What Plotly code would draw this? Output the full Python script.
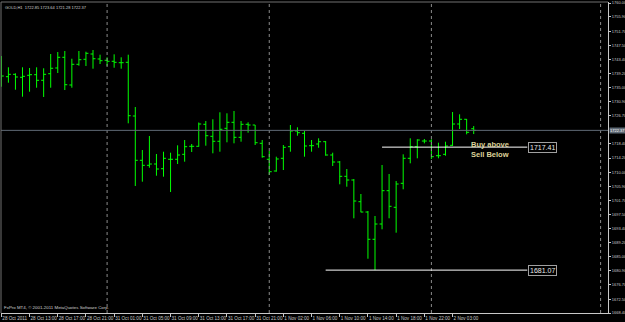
import plotly.graph_objects as go

# ---- data (GOLD, H1) ----
bar_index = list(range(68))
opens = [1737.84, 1738.23, 1738.93, 1738.05, 1738.64, 1738.82, 1737.16, 1739.11, 1740.80, 1743.96,
         1735.77, 1741.89, 1743.37, 1744.93, 1743.46, 1743.07, 1742.78, 1742.36, 1742.48, 1726.61,
         1713.52, 1712.04, 1712.43, 1711.04, 1713.82, 1713.82, 1715.29, 1717.66, 1717.66, 1724.16,
         1720.61, 1719.14, 1722.98, 1724.75, 1720.32, 1724.16, 1723.95, 1718.54, 1713.82, 1710.36,
         1714.11, 1717.54, 1722.18, 1721.50, 1717.84, 1718.34, 1719.02, 1715.09, 1713.02, 1708.79,
         1707.70, 1701.29, 1698.24, 1690.18, 1694.70, 1704.54, 1699.63, 1706.72, 1714.11, 1717.54,
         1719.22, 1719.22, 1714.88, 1715.29, 1717.95, 1724.25, 1725.64, 1722.85]
highs = [1744.34, 1741.00, 1739.23, 1741.00, 1740.80, 1741.00, 1740.71, 1744.93, 1745.52, 1745.82,
         1743.54, 1745.82, 1745.61, 1746.11, 1744.73, 1743.96, 1744.84, 1743.96, 1744.73, 1729.27,
         1716.56, 1720.70, 1715.38, 1716.06, 1715.77, 1717.95, 1719.52, 1718.34, 1724.69, 1725.13,
         1725.64, 1727.71, 1727.41, 1728.09, 1725.13, 1724.75, 1723.95, 1719.52, 1716.27, 1714.59,
         1718.04, 1723.95, 1723.27, 1722.18, 1719.52, 1720.02, 1719.22, 1715.77, 1713.31, 1710.95,
         1708.00, 1703.56, 1698.54, 1697.06, 1712.13, 1709.47, 1707.40, 1715.29, 1720.02, 1719.73,
         1719.82, 1719.73, 1718.72, 1719.02, 1727.79, 1727.11, 1725.73, 1723.64]
lows = [1735.27, 1736.45, 1734.38, 1732.32, 1733.79, 1734.97, 1732.23, 1734.97, 1739.32, 1734.29,
        1734.97, 1741.48, 1741.39, 1740.59, 1741.98, 1741.39, 1740.88, 1740.59, 1724.45, 1705.93,
        1707.20, 1711.33, 1708.97, 1708.68, 1704.15, 1712.43, 1713.11, 1715.97, 1717.54, 1717.84,
        1715.59, 1716.06, 1718.84, 1718.54, 1719.02, 1721.68, 1718.04, 1714.29, 1709.18, 1710.15,
        1710.65, 1716.06, 1720.79, 1714.59, 1716.06, 1717.24, 1714.88, 1711.84, 1706.43, 1705.72,
        1696.38, 1698.16, 1684.44, 1681.07, 1693.13, 1696.38, 1692.13, 1704.95, 1712.63, 1714.11,
        1718.54, 1713.91, 1714.11, 1714.88, 1717.75, 1722.77, 1721.20, 1721.28]
closes = [1738.43, 1738.93, 1738.14, 1738.34, 1738.82, 1737.16, 1738.93, 1740.71, 1743.96, 1735.86,
          1741.89, 1743.25, 1745.14, 1743.54, 1742.95, 1742.78, 1742.48, 1742.36, 1726.70, 1713.52,
          1712.04, 1712.43, 1710.95, 1714.11, 1713.82, 1715.09, 1717.54, 1717.66, 1724.25, 1720.79,
          1719.14, 1722.68, 1724.75, 1720.32, 1724.16, 1723.95, 1718.72, 1714.59, 1710.15, 1713.91,
          1717.36, 1722.18, 1721.68, 1717.75, 1717.84, 1719.02, 1715.09, 1713.02, 1708.79, 1707.70,
          1701.49, 1698.24, 1690.18, 1694.70, 1704.54, 1699.93, 1706.52, 1714.11, 1717.54, 1719.52,
          1719.22, 1714.59, 1714.88, 1717.75, 1724.25, 1725.64, 1721.79, 1722.37]

time_tick_index = [0, 4, 8, 12, 16, 20, 24, 28, 32, 36, 40, 44, 48, 52, 56, 60, 64]
time_labels = ["28 Oct 2011", "28 Oct 13:00", "28 Oct 17:00", "28 Oct 21:00", "31 Oct 01:00",
               "31 Oct 05:00", "31 Oct 09:00", "31 Oct 13:00", "31 Oct 17:00", "31 Oct 21:00",
               "1 Nov 02:00", "1 Nov 06:00", "1 Nov 10:00", "1 Nov 14:00", "1 Nov 18:00",
               "1 Nov 22:00", "2 Nov 03:00"]
price_ticks = [1760.00, 1755.90, 1751.70, 1747.50, 1743.40, 1739.20, 1735.00, 1730.90, 1726.70,
               1718.40, 1714.20, 1710.00, 1705.90, 1701.70, 1697.50, 1693.40, 1689.20, 1685.00,
               1680.90, 1676.70, 1672.50, 1668.40]
price_labels = ["%.2f" % v for v in price_ticks]

day_separators = [15, 38, 61, 85]
current_price = 1722.37
level_prices = [1717.41, 1681.07]
level_start = [54, 46]
level_end = 74
title_text = "GOLD,H1  1722.85 1723.64 1721.28 1722.37"
copyright_text = "FxPro MT4, \u00a9 2001-2011 MetaQuotes Software Corp."

FONT = "Liberation Sans"
AX = "#c8c8c8"

fig = go.Figure(go.Ohlc(
    x=bar_index, open=opens, high=highs, low=lows, close=closes,
    increasing=dict(line=dict(color="#00ff00", width=1)),
    decreasing=dict(line=dict(color="#00ff00", width=1)),
    tickwidth=0.35, hoverinfo="skip"))

shapes = []
for d in day_separators:
    shapes.append(dict(type="line", xref="x", yref="paper", x0=d, x1=d, y0=0, y1=1,
                       line=dict(color="#8a8a8a", width=1, dash="dot")))
shapes.append(dict(type="line", xref="paper", yref="y", x0=0, x1=1, y0=current_price, y1=current_price,
                   line=dict(color="#5f6a76", width=1)))
for p, s in zip(level_prices, level_start):
    shapes.append(dict(type="line", xref="x", yref="y", x0=s, x1=level_end + 0.6, y0=p, y1=p,
                       line=dict(color="#ffffff", width=1)))
# dim left/top frame
shapes.append(dict(type="line", xref="paper", yref="paper", x0=0, x1=1, y0=1, y1=1,
                   line=dict(color="#707070", width=1)))
shapes.append(dict(type="line", xref="paper", yref="paper", x0=0, x1=0, y0=0, y1=1,
                   line=dict(color="#707070", width=1)))

annotations = [
    dict(xref="paper", yref="paper", x=0.003, y=1, xanchor="left", yanchor="top", yshift=-1,
         text=title_text, showarrow=False, font=dict(family=FONT, size=4, color="#d0d0d0")),
    dict(xref="paper", yref="paper", x=0.002, y=0, xanchor="left", yanchor="bottom", yshift=1,
         text=copyright_text, showarrow=False, font=dict(family=FONT, size=4.4, color="#d0d0d0")),
    dict(xref="paper", yref="y", x=1, y=current_price, xanchor="left", yanchor="middle", xshift=1,
         text="%.2f" % current_price, showarrow=False, bgcolor="#5f6a76", borderpad=0,
         font=dict(family=FONT, size=4, color="#ffffff")),
    dict(xref="x", yref="y", x=66.3, y=1718.2, xanchor="left", yanchor="middle",
         text="<b>Buy above</b>", showarrow=False, font=dict(family=FONT, size=7.5, color="#ddd39a")),
    dict(xref="x", yref="y", x=66.4, y=1715.1, xanchor="left", yanchor="middle",
         text="<b>Sell Below</b>", showarrow=False, font=dict(family=FONT, size=7.5, color="#ddd39a")),
]
for p in level_prices:
    annotations.append(dict(xref="x", yref="y", x=74.7, y=p, xanchor="left", yanchor="middle",
                            text="%.2f" % p, showarrow=False, bgcolor="#000000",
                            bordercolor="#a0a0a0", borderwidth=1, borderpad=1,
                            font=dict(family=FONT, size=7, color="#e8e8e8")))

fig.update_layout(
    width=625, height=322,
    margin=dict(l=1, r=17, t=2, b=9, pad=0, autoexpand=False),
    paper_bgcolor="#000000", plot_bgcolor="#000000",
    showlegend=False,
    shapes=shapes, annotations=annotations,
    xaxis=dict(range=[-0.05, 86.05], rangeslider=dict(visible=False), showgrid=False, zeroline=False,
               tickmode="array", tickvals=time_tick_index, ticktext=time_labels, tickangle=0,
               ticks="outside", ticklen=3, tickcolor=AX, ticklabelposition="outside right",
               tickfont=dict(family=FONT, size=4.6, color=AX), automargin=False,
               showline=True, linecolor=AX, linewidth=1, fixedrange=True),
    yaxis=dict(side="right", range=[1668.4, 1760.3], showgrid=False, zeroline=False,
               tickmode="array", tickvals=price_ticks, ticktext=price_labels,
               ticks="outside", ticklen=2, tickcolor=AX, automargin=False,
               tickfont=dict(family=FONT, size=4, color=AX),
               showline=True, linecolor=AX, linewidth=1, fixedrange=True),
)

fig.write_html("out.html")
